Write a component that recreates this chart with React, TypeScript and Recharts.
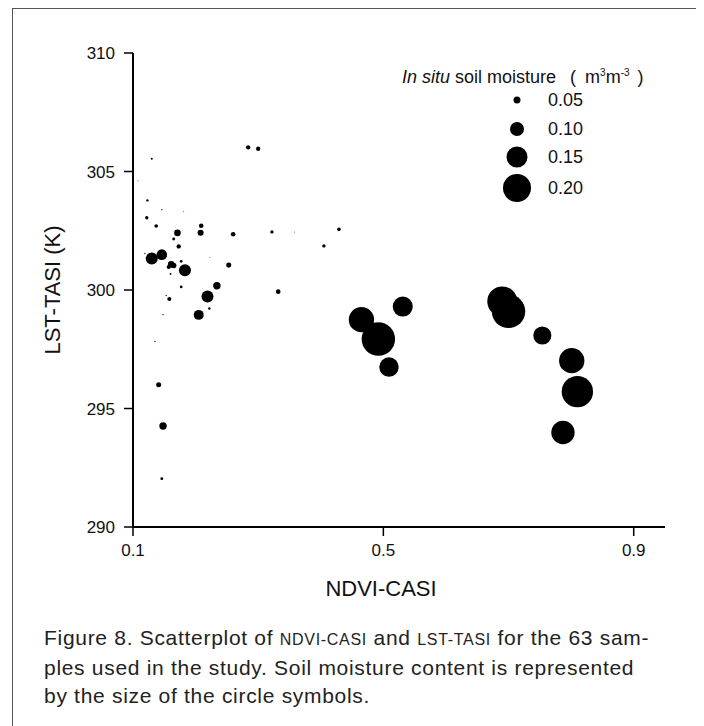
import { ScatterChart, Scatter, XAxis, YAxis } from "recharts";

// NDVI-CASI, LST-TASI (K), in situ soil moisture (m3 m-3) per sample
const ndvi = [
  0.13, 0.108, 0.123, 0.146, 0.181, 0.122, 0.137, 0.209, 0.208, 0.171,
  0.165, 0.173, 0.26, 0.322, 0.358, 0.284, 0.3, 0.13, 0.146, 0.119,
  0.177, 0.183, 0.161, 0.157, 0.165, 0.16, 0.177, 0.223, 0.253, 0.234,
  0.219, 0.205, 0.158, 0.153, 0.148, 0.222, 0.332, 0.135, 0.141, 0.148,
  0.146, 0.429, 0.405, 0.465, 0.492, 0.531, 0.509, 0.69, 0.7, 0.754,
  0.801, 0.81, 0.787,
];
const lst = [
  305.54, 304.61, 303.78, 303.39, 303.3, 303.05, 302.7, 302.71, 302.42, 302.41,
  302.15, 301.84, 302.35, 302.45, 302.45, 306.02, 305.96, 301.33, 301.49, 301.54,
  301.21, 300.83, 301.08, 300.97, 301.03, 300.68, 300.13, 301.38, 301.05, 300.18,
  299.73, 298.95, 299.62, 299.77, 298.96, 299.22, 299.93, 297.83, 296.0, 294.26,
  292.04, 302.56, 301.86, 298.75, 297.93, 299.3, 296.75, 299.52, 299.1, 298.08,
  297.02, 295.71, 293.99,
];
const moisture = [
  0.014, 0.007, 0.017, 0.009, 0.007, 0.024, 0.026, 0.033, 0.043, 0.047,
  0.021, 0.031, 0.033, 0.024, 0.007, 0.031, 0.031, 0.086, 0.076, 0.009,
  0.019, 0.086, 0.047, 0.029, 0.039, 0.014, 0.019, 0.007, 0.036, 0.053,
  0.086, 0.071, 0.029, 0.009, 0.009, 0.017, 0.033, 0.009, 0.036, 0.053,
  0.021, 0.026, 0.024, 0.181, 0.239, 0.143, 0.139, 0.214, 0.239, 0.129,
  0.181, 0.224, 0.167,
];

const legendValues = [0.05, 0.1, 0.15, 0.2];
const legendLabels = ["0.05", "0.10", "0.15", "0.20"];
const xTicks = [0.1, 0.5, 0.9];
const yTicks = [290, 295, 300, 305, 310];

const FONT = "'Liberation Sans', Arial, sans-serif";
const R_SCALE = 70;
const radius = (v: number) => Math.max(v * R_SCALE, 0.45);

const data = ndvi.map((x, i) => ({ ndvi: x, lst: lst[i], sm: moisture[i] }));

const Bubble = (props: any) => {
  const { cx, cy, payload } = props;
  if (cx == null || cy == null) return null;
  return <circle cx={cx} cy={cy} r={radius(payload.sm)} fill="#000" />;
};

// legend rows, centre y relative to the frame
const rowY = [91, 120, 148, 179];

const SizeLegend = () => (
  <div style={{ position: "absolute", left: 0, top: 0, fontFamily: FONT, color: "#111" }}>
    <div
      style={{
        position: "absolute",
        left: 389,
        top: 53,
        fontSize: 18,
        lineHeight: "22px",
        whiteSpace: "nowrap",
      }}
    >
      <i>In situ</i> soil moisture
      <span style={{ marginLeft: 14 }}>(</span>
      <span style={{ marginLeft: 9 }}>m</span>
      <sup style={{ fontSize: 10 }}>3</sup>m<sup style={{ fontSize: 10 }}>-3</sup>
      <span style={{ marginLeft: 8 }}>)</span>
    </div>
    {legendValues.map((v, i) => (
      <div key={legendLabels[i]}>
        <svg
          style={{ position: "absolute", left: 504 - 16, top: rowY[i] - 16 }}
          width={32}
          height={32}
        >
          <circle cx={16} cy={16} r={radius(v)} fill="#000" />
        </svg>
        <div
          style={{
            position: "absolute",
            left: 535,
            top: rowY[i] - 11,
            fontSize: 18,
            lineHeight: "22px",
          }}
        >
          {legendLabels[i]}
        </div>
      </div>
    ))}
  </div>
);

const axisTick = { fill: "#111", fontSize: 17, fontFamily: FONT };

export default function App() {
  return (
    <div
      style={{
        position: "relative",
        marginLeft: 4,
        width: 685,
        height: 740,
        borderTop: "1px solid #555",
        borderLeft: "1px solid #555",
        borderRight: "1px solid #555",
        background: "#fff",
      }}
    >
      <div style={{ position: "absolute", left: 0, top: 0 }}>
        <ScatterChart
          width={680}
          height={600}
          margin={{ top: 44, right: 28, left: 0, bottom: 22 }}
        >
          <XAxis
            dataKey="ndvi"
            type="number"
            domain={[0.1, 0.95]}
            ticks={xTicks}
            allowDataOverflow
            tickFormatter={(v) => String(v)}
            axisLine={{ stroke: "#000", strokeWidth: 2 }}
            tickLine={{ stroke: "#000", strokeWidth: 1.5 }}
            tickSize={9}
            tickMargin={8}
            tick={axisTick}
            height={60}
            label={{
              content: () => (
                <text x={368} y={587} textAnchor="middle" fontSize={22} fontFamily={FONT} fill="#111">
                  NDVI-CASI
                </text>
              ),
            }}
          />
          <YAxis
            dataKey="lst"
            type="number"
            domain={[290, 310]}
            ticks={yTicks}
            allowDataOverflow
            axisLine={{ stroke: "#000", strokeWidth: 2 }}
            tickLine={{ stroke: "#000", strokeWidth: 1.5 }}
            tickSize={9}
            tickMargin={9}
            tick={axisTick}
            width={120}
            label={{
              content: () => (
                <text
                  x={0}
                  y={0}
                  transform="translate(47 281) rotate(-90)"
                  textAnchor="middle"
                  fontSize={22}
                  fontFamily={FONT}
                  fill="#111"
                >
                  LST-TASI (K)
                </text>
              ),
            }}
          />
          <Scatter data={data} shape={Bubble} isAnimationActive={false} />
        </ScatterChart>
      </div>
      <SizeLegend />
      <div
        style={{
          position: "absolute",
          left: 31,
          top: 615,
          fontFamily: FONT,
          fontSize: 21,
          letterSpacing: "0.7px",
          lineHeight: "28px",
          color: "#222",
          whiteSpace: "nowrap",
        }}
      >
        <div>
          Figure 8. Scatterplot of <span style={{ fontSize: 16 }}>NDVI-CASI</span> and{" "}
          <span style={{ fontSize: 16 }}>LST-TASI</span> for the 63 sam-
        </div>
        <div>ples used in the study. Soil moisture content is represented</div>
        <div>by the size of the circle symbols.</div>
      </div>
    </div>
  );
}
